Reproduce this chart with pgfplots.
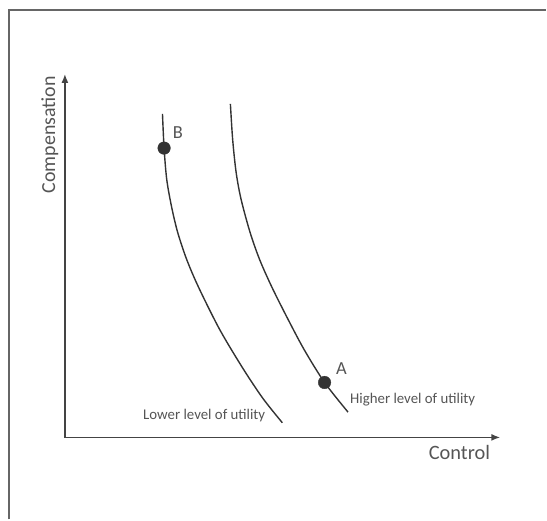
\documentclass[border=0pt]{standalone}
\usepackage{pgfplots}
\pgfplotsset{compat=1.18}
\usetikzlibrary{arrows.meta}
\usepackage{fontspec}
\setmainfont{Carlito}
\definecolor{txt}{HTML}{555555}
\definecolor{crv}{HTML}{333333}
\definecolor{axc}{HTML}{444444}
\begin{document}
\begin{tikzpicture}
\begin{axis}[
  x=1bp, y=1bp,
  xmin=0, xmax=547, ymin=0, ymax=520,
  axis lines=none,
  clip=false,
  ticks=none,
]
% invisible corners to fix the bounding box
\addplot[draw=none, forget plot] coordinates {(0,0) (547,520)};
% frame (top and left visible)
\addplot[color=gray!80!black, line width=1.5bp] coordinates {(9,0) (9,510) (547,510)};
% axes
\addplot[color=axc, line width=1.6bp, -{Latex[length=9bp,width=7bp]}] coordinates {(65,82) (65,446)};
\addplot[color=axc, line width=1.6bp, -{Latex[length=9bp,width=7bp]}] coordinates {(64.2,82) (501,82)};
% lower utility curve
\addplot[color=crv, line width=1.4bp, smooth] coordinates {
 (162.7,406) (164.3,371.7) (167,340) (172,312) (178,287) (187,260) (199,232)
 (220,190) (243.3,151) (263.3,121) (282.7,96.7)};
% higher utility curve
\addplot[color=crv, line width=1.4bp, smooth] coordinates {
 (230.7,416) (233.0,380) (236.5,347) (241.5,320) (250.5,287) (260,260)
 (272,233) (287,203) (304.5,170) (325,137) (348.5,107.3)};
% points
\addplot[only marks, mark=*, mark size=6.3bp, color=crv] coordinates {(164.3,371.7) (325,137)};
% labels
\node[txt, rotate=90, font=\fontsize{20}{24}\selectfont] at (axis cs:50,385) {Compensation};
\node[txt, font=\fontsize{20.5}{24}\selectfont] at (axis cs:460,67) {Control};
\node[txt, anchor=west, inner sep=0pt, font=\fontsize{14.9}{18}\selectfont] at (axis cs:350.5,120) {Higher level of utility};
\node[txt, font=\fontsize{14.9}{18}\selectfont] at (axis cs:204.5,104) {Lower level of utility};
\node[txt, font=\fontsize{18.5}{22}\selectfont] at (axis cs:178,387) {B};
\node[txt, font=\fontsize{18.5}{22}\selectfont] at (axis cs:342,151) {A};
\end{axis}
\end{tikzpicture}
\end{document}
